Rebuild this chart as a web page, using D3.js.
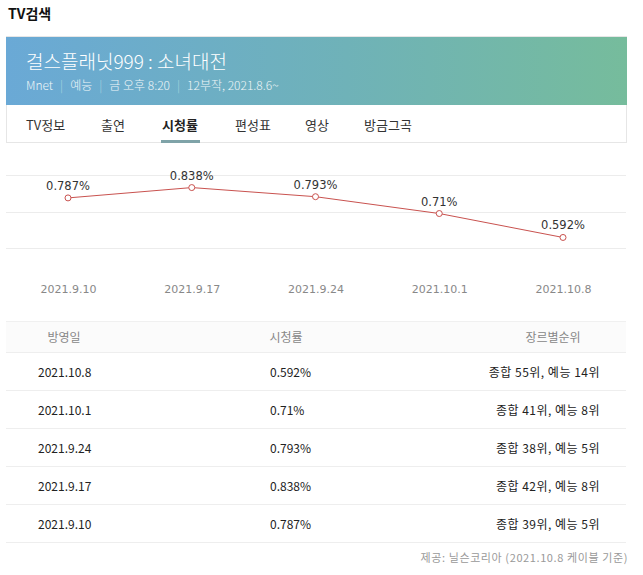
<!DOCTYPE html>
<html><head><meta charset="utf-8">
<script src="https://cdn.jsdelivr.net/npm/d3@7"></script>
<style>
html,body{margin:0;padding:0;background:#fff;}
svg{display:block;}
</style></head>
<body>
<svg id="c" width="643" height="575"></svg>
<script>
const dates = ["2021.9.10","2021.9.17","2021.9.24","2021.10.1","2021.10.8"];
const ratings = [0.787, 0.838, 0.793, 0.71, 0.592];
const ratingLabels = ["0.787%","0.838%","0.793%","0.71%","0.592%"];
const gridTicks = [0.54, 0.72, 0.90];
const tableDates = ["2021.10.8","2021.10.1","2021.9.24","2021.9.17","2021.9.10"];
const tableRatings = ["0.592%","0.71%","0.793%","0.838%","0.787%"];
const tableRanks = ["종합 55위, 예능 14위","종합 41위, 예능 8위","종합 38위, 예능 5위","종합 42위, 예능 8위","종합 39위, 예능 5위"];
const tabs = ["TV정보","출연","시청률","편성표","영상","방금그곡"];
const tabX = [26,101,162,235,305,364];
const headers = ["방영일","시청률","장르별순위"];

const svg = d3.select("#c");
const KR = "'Noto Sans CJK KR', 'Noto Sans', sans-serif";

// page title
svg.append("text").attr("x",8).attr("y",19).text("TV검색")
  .attr("font-family",KR).attr("font-weight","bold").attr("font-size",14).attr("fill","#111");

// card
const defs = svg.append("defs");
const grad = defs.append("linearGradient").attr("id","hg").attr("x1","0").attr("x2","1").attr("y1","0").attr("y2","0");
grad.append("stop").attr("offset","0").attr("stop-color","#6aa9d6");
grad.append("stop").attr("offset","0.55").attr("stop-color","#6fb2b8");
grad.append("stop").attr("offset","1").attr("stop-color","#76bc9c");
svg.append("rect").attr("x",6.5).attr("y",36.5).attr("width",620).attr("height",106).attr("fill","#fff").attr("stroke","#e6e6e6");
svg.append("rect").attr("x",6).attr("y",37).attr("width",621).attr("height",68).attr("fill","url(#hg)");
svg.append("text").attr("x",26).attr("y",69).text("걸스플래닛999 : 소녀대전")
  .attr("font-family",KR).attr("font-size",19).attr("font-weight",300).attr("fill","#fff");
const sub = svg.append("text").attr("x",26).attr("y",90).attr("font-family",KR).attr("font-size",12).attr("font-weight",300).attr("fill","#eef6f8");
sub.append("tspan").text("Mnet");
sub.append("tspan").attr("fill","#a9d4e0").attr("dx",7).text("|");
sub.append("tspan").attr("dx",7).text("예능");
sub.append("tspan").attr("fill","#a9d4e0").attr("dx",7).text("|");
sub.append("tspan").attr("dx",7).text("금 오후 8:20");
sub.append("tspan").attr("fill","#a9d4e0").attr("dx",7).text("|");
sub.append("tspan").attr("dx",7).text("12부작, 2021.8.6~");

svg.selectAll("text.tab").data(tabs).enter().append("text").attr("class","tab")
  .attr("x",(d,i)=>tabX[i]).attr("y",130).text(d=>d)
  .attr("font-family",KR).attr("font-size",13)
  .attr("font-weight",(d,i)=>i===2?"bold":"normal")
  .attr("fill",(d,i)=>i===2?"#222":"#333");
svg.append("rect").attr("x",161).attr("y",140).attr("width",39).attr("height",3).attr("fill","#7fa3a8");

// chart
const x = d3.scalePoint().domain(dates).range([68,563]);
const y = d3.scaleLinear().domain([0.54,0.90]).range([248,175]);
const g = svg.append("g");
g.selectAll("line.grid").data(gridTicks).enter().append("line").attr("class","grid")
  .attr("x1",6).attr("x2",626).attr("y1",d=>Math.round(y(d))+0.5).attr("y2",d=>Math.round(y(d))+0.5)
  .attr("stroke","#ececec");
const xAxis = d3.axisBottom(x).tickSize(0).tickPadding(0);
const ax = g.append("g").attr("transform","translate(0,285)").call(xAxis);
ax.select(".domain").remove();
ax.selectAll("text").attr("font-family","Tahoma, 'DejaVu Sans', sans-serif").attr("font-size",11)
  .attr("fill","#888").attr("dy","0.35em").attr("y",4);
const lineGen = d3.line().x((d,i)=>x(dates[i])).y(d=>y(d));
g.append("path").datum(ratings).attr("d",lineGen).attr("fill","none").attr("stroke","#c9524f").attr("stroke-width",1);
g.selectAll("circle.pt").data(ratings).enter().append("circle").attr("class","pt")
  .attr("cx",(d,i)=>x(dates[i])).attr("cy",d=>y(d)).attr("r",3)
  .attr("fill","#fff").attr("stroke","#c9524f").attr("stroke-width",1);
g.selectAll("text.lbl").data(ratings).enter().append("text").attr("class","lbl")
  .attr("x",(d,i)=>x(dates[i])).attr("y",d=>y(d)-8).attr("text-anchor","middle")
  .text((d,i)=>ratingLabels[i]).attr("font-family","'DejaVu Sans', sans-serif").attr("font-size",11.5).attr("fill","#333");

// table
const rowY = d3.scaleBand().domain(d3.range(5)).range([352,542]);
svg.append("rect").attr("x",6).attr("y",322).attr("width",620).attr("height",30).attr("fill","#fbfbfb");
svg.append("line").attr("x1",6).attr("x2",626).attr("y1",321.5).attr("y2",321.5).attr("stroke","#f0f0f0");
svg.append("line").attr("x1",6).attr("x2",626).attr("y1",352.5).attr("y2",352.5).attr("stroke","#eeeeee");
const hx = [64,286,553];
svg.selectAll("text.hd").data(headers).enter().append("text").attr("class","hd")
  .attr("x",(d,i)=>hx[i]).attr("y",342).attr("text-anchor","middle").text(d=>d)
  .attr("font-family",KR).attr("font-size",12).attr("fill","#888");
const rows = svg.selectAll("g.row").data(d3.range(5)).enter().append("g").attr("class","row")
  .attr("transform",i=>`translate(0,${rowY(i)})`);
rows.append("line").attr("x1",6).attr("x2",626).attr("y1",rowY.bandwidth()+0.5).attr("y2",rowY.bandwidth()+0.5).attr("stroke","#eeeeee");
rows.append("text").attr("x",38).attr("y",25).text(i=>tableDates[i])
  .attr("font-family",KR).attr("font-size",12).attr("fill","#222");
rows.append("text").attr("x",270).attr("y",25).text(i=>tableRatings[i])
  .attr("font-family",KR).attr("font-size",12).attr("fill","#222");
rows.append("text").attr("x",600).attr("y",25).attr("text-anchor","end").text(i=>tableRanks[i])
  .attr("font-family",KR).attr("font-size",12).attr("letter-spacing",0.5).attr("fill","#222");

svg.append("text").attr("x",628).attr("y",562).attr("text-anchor","end")
  .text("제공: 닐슨코리아 (2021.10.8 케이블 기준)").attr("font-family",KR).attr("font-size",11).attr("letter-spacing",0.6).attr("fill","#999");
</script>
</body></html>
